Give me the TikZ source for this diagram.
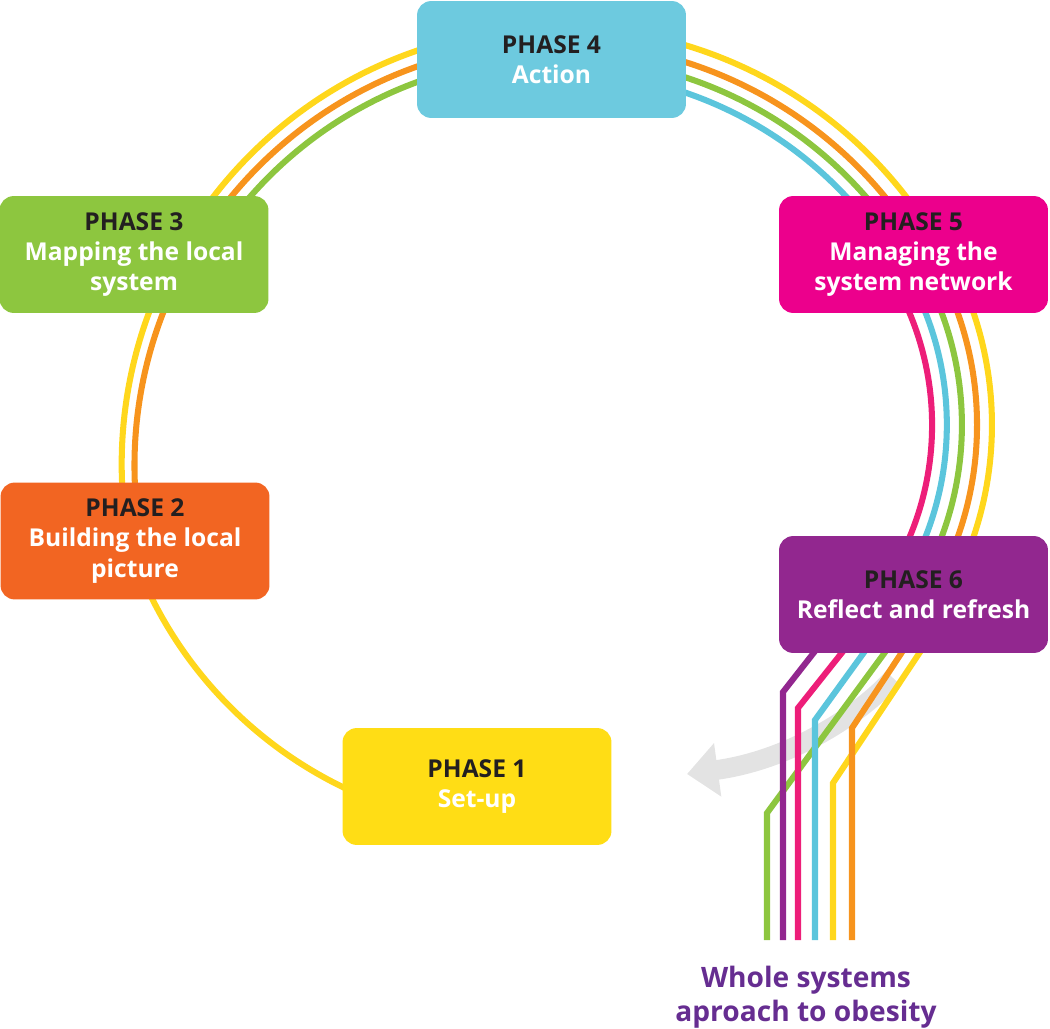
\documentclass[tikz,border=0pt]{standalone}
\usepackage{fontspec}
\setmainfont{Open Sans}
\usetikzlibrary{arrows.meta}

\definecolor{ink}{HTML}{231F20}
\definecolor{titlepurple}{HTML}{662D91}
\definecolor{arrowgray}{HTML}{E3E3E3}

\definecolor{boxyellow}{HTML}{FFDD15}
\definecolor{boxorange}{HTML}{F26522}
\definecolor{boxgreen}{HTML}{8DC63F}
\definecolor{boxblue}{HTML}{6DCADF}
\definecolor{boxpink}{HTML}{EC008C}
\definecolor{boxpurple}{HTML}{92278F}

\definecolor{lineyellow}{HTML}{FFD71C}
\definecolor{lineorange}{HTML}{F7941D}
\definecolor{linegreen}{HTML}{8DC63F}
\definecolor{lineblue}{HTML}{5BC5DC}
\definecolor{linepink}{HTML}{ED1E79}
\definecolor{linepurple}{HTML}{92278F}

\tikzset{
  phase/.style={ rounded corners=0.35cm, minimum width=6.72cm, minimum height=2.92cm,
    align=center, inner sep=0pt, text=white,
    font=\fontsize{17.5}{21.5}\selectfont\bfseries },
  strand/.style={ line width=4.3pt },
}

\begin{document}
\begin{tikzpicture}[ x=0.025cm, y=-0.025cm ]
	  \useasboundingbox (0,0) rectangle (1050,1029);
	  \coordinate (ctr) at (558,466);
	  \coordinate (low) at (525,412);

	  \draw [ line width=14pt, color=arrowgray, -{Triangle[width=37pt,length=22pt]} ] (893,678) .. controls (860,715) and (790,760) .. (687,774);

	  \draw [ strand, color=lineyellow ] (low) ++(113:417) arc [ start angle=113, end angle=162, radius=417 ]
	      arc [ start angle=170, end angle=331.9, radius=438 ] -- (950.7,260)
	      arc [ start angle=331.9, end angle=386.3, radius=350 ] -- (928,640) -- (833,783) -- (833,940);
	  \draw [ strand, color=lineorange ] (ctr) ++(176:423.5) arc [ start angle=176, end angle=330.9, radius=423.5 ] -- (933.6,260)
	      arc [ start angle=330.5, end angle=387.6, radius=335 ] -- (910,640) -- (852,728) -- (852,940);
	  \draw [ strand, color=linegreen ] (ctr) ++(215:409) arc [ start angle=215, end angle=329.8, radius=409 ] -- (916.2,260)
	      arc [ start angle=329, end angle=389, radius=320 ] -- (894,640) -- (767,813) -- (767,940);
	  \draw [ strand, color=lineblue ] (ctr) ++(285:394.5) arc [ start angle=285, end angle=328.5, radius=394.5 ] -- (898.5,260)
	      arc [ start angle=327.3, end angle=390.5, radius=305 ] -- (873,640) -- (815,720) -- (815,940);
	  \draw [ strand, color=linepink ] (ctr) ++(320:380) arc [ start angle=320, end angle=327.2, radius=380 ] -- (880.5,260)
	      arc [ start angle=325.3, end angle=392.3, radius=290 ] -- (852,640) -- (798,708) -- (798,940);
	  \draw [ strand, color=linepurple ] (841,618) -- (812,655) -- (783,692) -- (783,940);

	  \node [ phase, fill=boxyellow ] (p1) at (477,786.5) {\textcolor{ink}{PHASE 1}\\Set-up};
	  \node [ phase, fill=boxorange ] (p2) at (135,541) {\textcolor{ink}{PHASE 2}\\Building the local\\picture};
	  \node [ phase, fill=boxgreen ] (p3) at (134,254.5) {\textcolor{ink}{PHASE 3}\\Mapping the local\\system};
	  \node [ phase, fill=boxblue ] (p4) at (551.5,59.5) {\textcolor{ink}{PHASE 4}\\Action};
	  \node [ phase, fill=boxpink ] (p5) at (913.5,254.5) {\textcolor{ink}{PHASE 5}\\Managing the\\system network};
	  \node [ phase, fill=boxpurple ] (p6) at (913.5,594.5) {\textcolor{ink}{PHASE 6}\\Reflect and refresh};

	  \node [ align=center, text=titlepurple, font=\fontsize{20}{24}\selectfont\bfseries ] (title) at (806,997) {Whole systems\\aproach to obesity};
\end{tikzpicture}
\end{document}
